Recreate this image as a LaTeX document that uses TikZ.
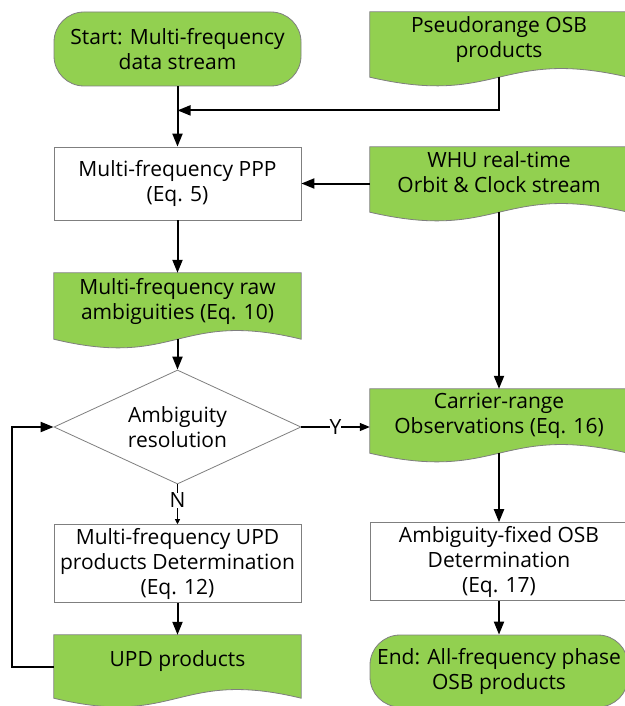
\documentclass[tikz,border=0pt]{standalone}
\usepackage{fontspec}
\setmainfont{Open Sans}
\usetikzlibrary{shapes.geometric,arrows.meta,calc,backgrounds,positioning}
\definecolor{docgreen}{HTML}{92D050}
\definecolor{edgegray}{HTML}{7F7F7F}

\begin{document}
\begin{tikzpicture}[x=1pt, y=-1pt,
    font=\fontsize{21}{25}\selectfont,
    every node/.style={align=center},
    box/.style={draw=edgegray, line width=0.8pt, fill=white, rectangle, minimum height=73pt},
    terminal/.style={draw=edgegray, line width=0.8pt, fill=docgreen, rectangle, rounded corners=30pt, minimum height=74pt, inner xsep=1pt},
    doc/.style={rectangle, text depth=15pt},
    docshape/.style={draw=edgegray, line width=0.8pt, fill=docgreen},
    decision/.style={draw=edgegray, line width=0.8pt, fill=white, diamond, aspect=2.2, minimum width=247pt, minimum height=114pt, inner sep=0pt},
    leftcol/.style={minimum width=247pt},
    rightcol/.style={minimum width=258pt},
    arr/.style={draw=black, line width=2pt, -{Triangle[length=13pt,width=10pt]}},
    tag/.style={midway, fill=white, inner sep=0pt}]
    \useasboundingbox (0,0) rectangle (624,706);

    % Left column
    \node[terminal, leftcol] (start) at (177.5,49) {Start: Multi-frequency\\data stream};
    \node[box, leftcol] (ppp) at (177.5,183.5) {Multi-frequency PPP\\(Eq. 5)};
    \node[doc, leftcol, minimum height=66pt] (raw) at (177.5,306) {Multi-frequency raw\\ambiguities (Eq. 10)};
    \node[decision] (ar) at (177.5,427) {Ambiguity\\resolution};
    \node[box, leftcol] (upddet) at (177.5,563.5) {Multi-frequency UPD\\products Determination\\(Eq. 12)};
    \node[doc, leftcol, minimum height=63pt] (upd) at (177.5,666.5) {UPD products};

    % Right column
    \node[doc, rightcol, minimum height=65pt] (osb) at (499,44.5) {Pseudorange OSB\\products};
    \node[doc, rightcol, minimum height=65pt] (whu) at (499,179.5) {WHU real-time\\Orbit \& Clock stream};
    \node[doc, rightcol, minimum height=64pt] (carrier) at (499,421) {Carrier-range\\Observations (Eq. 16)};
    \node[box, rightcol] (fixed) at (499,561.5) {Ambiguity-fixed OSB\\Determination\\(Eq. 17)};
    \node[terminal, rightcol, minimum height=72pt] (end) at (499,671) {End: All-frequency phase\\OSB products};

    % Document shapes with wavy bottom
    \begin{scope}[on background layer]
        \foreach \d in {osb,whu,raw,carrier,upd}
            \filldraw[docshape] (\d.north west) -- (\d.north east) -- (\d.south east)
                .. controls ($(\d.south)+(0,-30)$) and ($(\d.south)+(0,30)$) .. (\d.south west) -- cycle;
    \end{scope}

    % Arrows
    \path (start.south) ++(0,24) coordinate (merge);
    \draw[arr] (start.south) -- (ppp.north);
    \draw[arr] (osb.south) |- (merge);
    \draw[arr] (whu.west |- ppp.east) -- (ppp.east);
    \draw[arr] (ppp.south) -- (raw.north);
    \draw[arr] (raw.south) -- (ar.north);
    \draw[arr] (whu.south) -- (carrier.north);
    \draw[arr, line width=1.2pt, -{Triangle[length=10pt,width=8pt]}] (ar.east) -- (ar.east -| carrier.west) node[tag] {Y};
    \draw[arr, line width=0.8pt, -{Triangle[length=5pt,width=5pt]}] (ar.south) -- (upddet.north) node[tag, pos=0.4] {N};
    \draw[arr] (upddet.south) -- (upd.north);
    \draw[arr] (carrier.south) -- (fixed.north);
    \draw[arr] (fixed.south) -- (end.north);
    \draw[arr] (upd.west) -- ++(-42,0) |- (ar.west);
\end{tikzpicture}
\end{document}
